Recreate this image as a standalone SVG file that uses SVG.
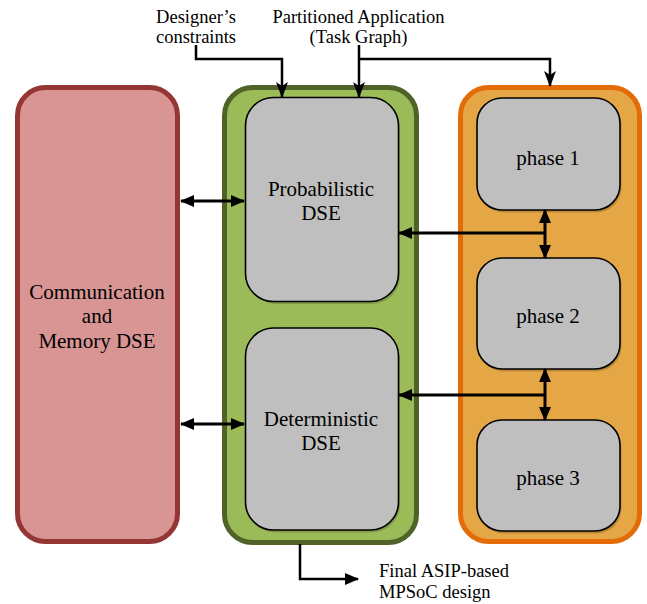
<svg xmlns="http://www.w3.org/2000/svg" width="647" height="604" viewBox="0 0 647 604">
<defs>
<marker id="tri" markerUnits="userSpaceOnUse" markerWidth="14" markerHeight="12" viewBox="0 0 14 12" refX="13" refY="6" orient="auto-start-reverse">
<path d="M0,0 L14,6 L0,12 z" fill="#000"/>
</marker>
<marker id="notch" markerUnits="userSpaceOnUse" markerWidth="16" markerHeight="12" viewBox="0 0 16 12" refX="15" refY="6" orient="auto">
<path d="M0,0 L16,6 L0,12 L4,6 z" fill="#000"/>
</marker>
</defs>
<style>
text{fill:#000;text-anchor:middle}
.lbl{font-size:18.5px}
.in{font-size:21px}
.gray{fill:#bfbfbf;stroke:#000;stroke-width:1.6}
.shadow{fill:#000;opacity:0.18}
.c{fill:none;stroke:#000;stroke-width:2.5}
.d{fill:none;stroke:#000;stroke-width:3}
</style>
<rect width="647" height="604" fill="#fff"/>
<g font-family="'Liberation Serif', 'DejaVu Serif', serif">
<g id="comm">
<rect x="17.5" y="87.5" width="160" height="454" rx="28" fill="#d99594" stroke="#943634" stroke-width="5"/>
<text class="in" x="97" y="299">Communication</text>
<text class="in" x="97" y="323">and</text>
<text class="in" x="97" y="348">Memory DSE</text>
</g>
<g id="dse-container">
<rect x="224.5" y="87.5" width="192" height="455" rx="28" fill="#9bbb59" stroke="#4f6228" stroke-width="5"/>
</g>
<g id="probabilistic">
<rect class="shadow" x="247" y="100" width="153" height="204" rx="28"/>
<rect class="gray" x="245.5" y="97.5" width="153" height="204" rx="28"/>
<text class="in" x="321" y="196">Probabilistic</text>
<text class="in" x="321" y="220">DSE</text>
</g>
<g id="deterministic">
<rect class="shadow" x="247" y="330.5" width="153" height="202" rx="28"/>
<rect class="gray" x="245.5" y="328" width="153" height="202" rx="28"/>
<text class="in" x="321" y="426">Deterministic</text>
<text class="in" x="321" y="450">DSE</text>
</g>
<g id="phases-container">
<rect x="460.5" y="87.5" width="179" height="454" rx="28" fill="#e5a745" stroke="#e36c09" stroke-width="5"/>
</g>
<g id="phase1">
<rect class="shadow" x="478.5" y="100.5" width="143" height="112" rx="25"/>
<rect class="gray" x="477" y="98" width="143" height="112" rx="25"/>
<text class="in" x="548" y="165">phase 1</text>
</g>
<g id="phase2">
<rect class="shadow" x="478.5" y="260.5" width="143" height="111" rx="25"/>
<rect class="gray" x="477" y="258" width="143" height="111" rx="25"/>
<text class="in" x="548" y="323">phase 2</text>
</g>
<g id="phase3">
<rect class="shadow" x="478.5" y="422.5" width="143" height="111" rx="25"/>
<rect class="gray" x="477" y="420" width="143" height="111" rx="25"/>
<text class="in" x="548" y="485">phase 3</text>
</g>
<g id="labels">
<text class="lbl" x="196" y="23">Designer’s</text>
<text class="lbl" x="196" y="43">constraints</text>
<text class="lbl" x="358.5" y="23">Partitioned Application</text>
<text class="lbl" x="358.5" y="43">(Task Graph)</text>
<text class="lbl" x="379" y="577" text-anchor="start" style="text-anchor:start">Final ASIP-based</text>
<text class="lbl" x="379" y="598" text-anchor="start" style="text-anchor:start">MPSoC design</text>
</g>
</g>
<g id="connectors">
<polyline class="c" points="196,45 196,59 282,59 282,97" marker-end="url(#notch)"/>
<line class="c" x1="359" y1="45" x2="359" y2="97" marker-end="url(#notch)"/>
<polyline class="c" points="359,59 550,59 550,86" marker-end="url(#notch)"/>
<polyline class="c" points="300,544 300,579 358,579" marker-end="url(#tri)"/>
<line class="d" x1="181" y1="201" x2="244" y2="201" marker-start="url(#tri)" marker-end="url(#tri)"/>
<line class="d" x1="181" y1="424" x2="244" y2="424" marker-start="url(#tri)" marker-end="url(#tri)"/>
<line class="d" x1="545" y1="233" x2="399" y2="233" marker-end="url(#tri)"/>
<line class="d" x1="545" y1="210" x2="545" y2="258" marker-start="url(#tri)" marker-end="url(#tri)"/>
<line class="d" x1="545" y1="395" x2="399" y2="395" marker-end="url(#tri)"/>
<line class="d" x1="545" y1="369" x2="545" y2="420" marker-start="url(#tri)" marker-end="url(#tri)"/>
</g>
</svg>
